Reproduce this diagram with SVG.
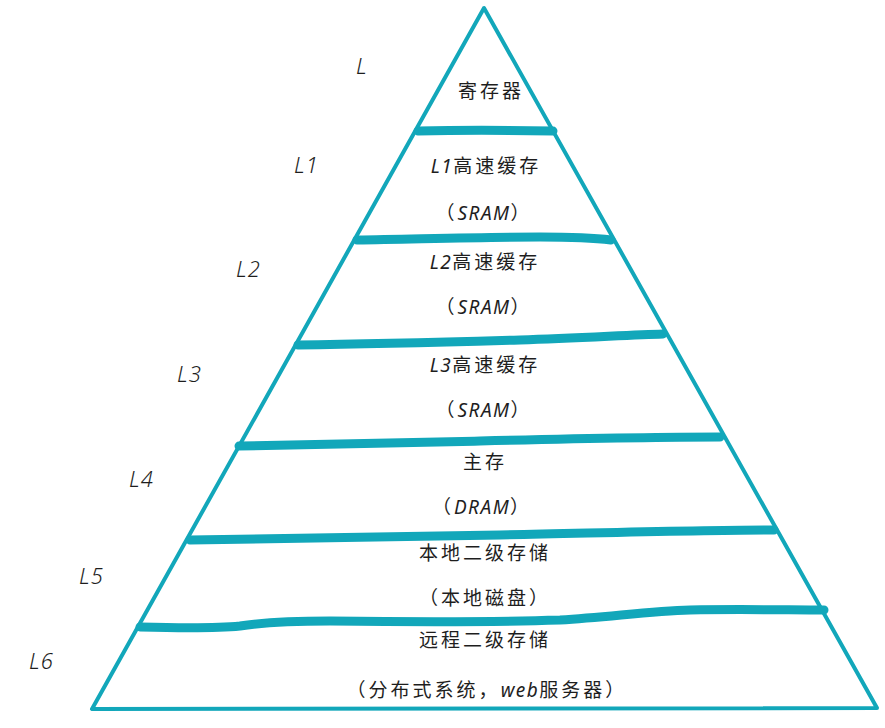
<svg xmlns="http://www.w3.org/2000/svg" width="885" height="728" viewBox="0 0 885 728">
<style>
.edge{fill:none;stroke:#12a7ba;stroke-width:4;stroke-linejoin:round;stroke-linecap:round}
.band{fill:none;stroke:#12a7ba;stroke-width:9;stroke-linecap:round;stroke-linejoin:round}
.t{font-family:"Noto Sans CJK SC","Noto Sans",sans-serif;font-size:19px;fill:#1e1e1e;text-anchor:middle;letter-spacing:3px}
.i{font-family:"Noto Sans","DejaVu Sans",sans-serif;font-style:italic;letter-spacing:1.5px}
.lv{font-family:"Noto Sans","DejaVu Sans",sans-serif;font-style:italic;font-size:22px;fill:#1e1e1e;font-weight:300;letter-spacing:1px}
</style>
<rect width="885" height="728" fill="#ffffff"/>
<g id="pyramid">
<path class="edge" d="M484,8 L92,709 L877,708 Z"/>
</g>
<g id="connectors">
<path class="band" d="M418,131 C460,130 500,130 553,131"/>
<path class="band" d="M357,240 C420,239 480,237 540,237 C570,237 595,238 611,240"/>
<path class="band" d="M298,345 C380,344 450,342 520,340 C580,338 630,335 663,334"/>
<path class="band" d="M239,446 C320,444 400,443 480,441 C560,439 650,437 720,437"/>
<path class="band" d="M190,540 C290,538 400,537 500,535 C600,533 700,530 774,530"/>
<path class="band" d="M140,627 C180,628 220,628 240,626 C265,622 290,621 330,621 C420,622 500,622 560,620 C610,617 650,611 690,610 C740,609 790,610 824,610"/>
</g>
<g id="level-labels">
<text class="lv" x="356" y="74">L</text>
<text class="lv" x="294" y="173">L1</text>
<text class="lv" x="236" y="277">L2</text>
<text class="lv" x="177" y="382">L3</text>
<text class="lv" x="129" y="487">L4</text>
<text class="lv" x="79" y="584">L5</text>
<text class="lv" x="29" y="669">L6</text>
</g>
<g id="node-register"><text class="t" x="491" y="98">寄存器</text></g>
<g id="node-l1"><text class="t" x="486" y="173"><tspan class="i">L1</tspan>高速缓存</text><text class="t" x="484" y="220">（<tspan class="i">SRAM</tspan>）</text></g>
<g id="node-l2"><text class="t" x="485" y="269"><tspan class="i">L2</tspan>高速缓存</text><text class="t" x="484" y="314">（<tspan class="i">SRAM</tspan>）</text></g>
<g id="node-l3"><text class="t" x="485" y="372"><tspan class="i">L3</tspan>高速缓存</text><text class="t" x="484" y="417">（<tspan class="i">SRAM</tspan>）</text></g>
<g id="node-main"><text class="t" x="485" y="469">主存</text><text class="t" x="482" y="514">（<tspan class="i">DRAM</tspan>）</text></g>
<g id="node-local"><text class="t" x="485" y="560">本地二级存储</text><text class="t" x="485" y="605">（本地磁盘）</text></g>
<g id="node-remote"><text class="t" x="485" y="647">远程二级存储</text><text class="t" x="487" y="697">（分布式系统，<tspan class="i">web</tspan>服务器）</text></g>
</svg>
